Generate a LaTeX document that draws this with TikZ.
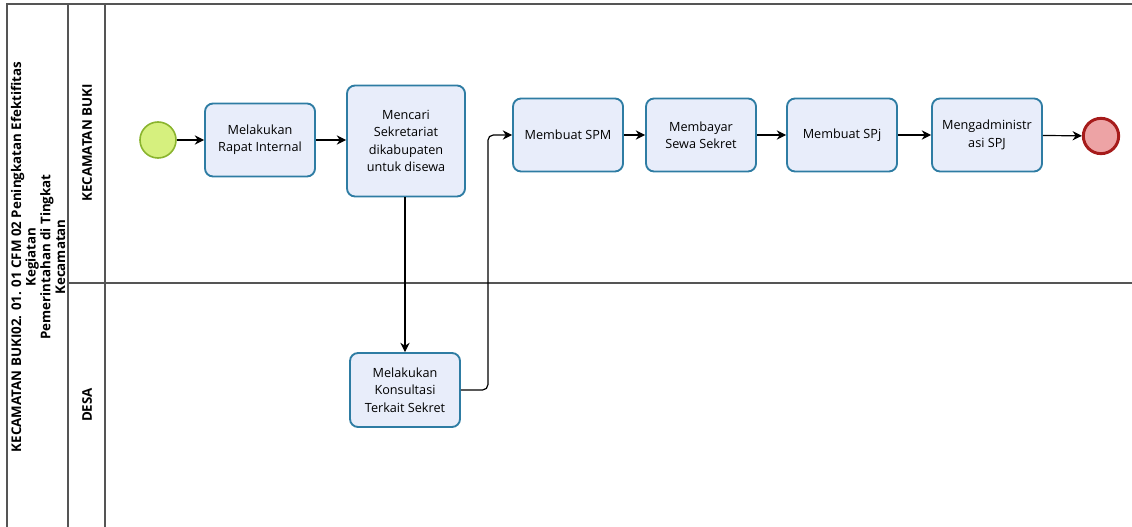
\documentclass[tikz,border=0pt]{standalone}
\usepackage{fontspec}
\setmainfont{Open Sans}
\usepackage{tikz}
\usetikzlibrary{positioning, arrows.meta, shapes.geometric, calc}
\definecolor{taskfill}{HTML}{E8EDFA}
\definecolor{taskline}{HTML}{2E7CA3}
\definecolor{startfill}{HTML}{D6F07E}
\definecolor{startline}{HTML}{8AB42E}
\definecolor{endfill}{HTML}{EDA3A5}
\definecolor{endline}{HTML}{A61B1B}
\definecolor{poolline}{HTML}{555555}
\tikzset{
	task/.style={draw=taskline, fill=taskfill, line width=1.4pt, rounded corners=6pt,
			minimum width=82.5pt, minimum height=54.75pt, align=center,
			font=\fontsize{9.5}{13}\selectfont, inner sep=2pt}
}
\tikzset{
	startevent/.style={circle, draw=startline, fill=startfill, line width=1.2pt, minimum size=27pt, inner sep=0pt}
}
\tikzset{
	endevent/.style={circle, draw=endline, fill=endfill, line width=2.2pt, minimum size=26.5pt, inner sep=0pt}
}
\tikzset{
	flow/.style={draw=black, line width=0.9pt, -{Stealth[length=7pt,width=7pt]}}
}
\tikzset{
	lanetext/.style={rotate=90, font=\bfseries\fontsize{10}{11}\selectfont, align=center}
}
\tikzset{
	poolborder/.style={draw=poolline, line width=1pt}
}

\begin{document}
\begin{tikzpicture}[x=0.75pt, y=-0.75pt]

			\useasboundingbox (0,0) rectangle (1132,527);

			% pool and lanes
			\begin{scope}
				\draw[poolborder] (1132,4) -- (7,4) -- (7,530);
				\draw[poolborder] (68,4) -- (68,530);
				\draw[poolborder] (105,4) -- (105,530);
				\draw[poolborder] (68,283) -- (1132,283);

				\node[lanetext] (pool) at (38,257) {KECAMATAN BUKI02. 01. 01 CFM 02 Peningkatan Efektifitas\\Kegiatan\\Pemerintahan di Tingkat\\Kecamatan};
				\node[lanetext] (lane1) at (87,143) {KECAMATAN BUKI};
				\node[lanetext] (lane2) at (87,405) {DESA};
			\end{scope}

			% events and tasks
			\begin{scope}
				\node[startevent] (start) at (158,140) {};
				\node[task] (rapat) at (260,140) {Melakukan\\Rapat Internal};
				\node[task, minimum width=88.5pt, minimum height=83.25pt] (cari) at (406,141) {Mencari\\Sekretariat\\dikabupaten\\untuk disewa};
				\node[task, minimum height=55.5pt] (konsul) at (405,390) {Melakukan\\Konsultasi\\Terkait Sekret};
				\node[task] (spm) at (568,135) {Membuat SPM};
				\node[task] (bayar) at (701,135) {Membayar\\Sewa Sekret};
				\node[task] (spj) at (842,135) {Membuat SPj};
				\node[task] (admin) at (987,135) {Mengadministr\\asi SPJ};
				\node[endevent] (end) at (1101,136) {};
			\end{scope}

			% sequence flows
			\begin{scope}
				\draw[flow] (start) -- (rapat);
				\draw[flow] (rapat.east |- 0,140) -- (cari.west |- 0,140);
				\draw[flow] (cari.south -| konsul.north) -- (konsul.north);
				\draw[flow, rounded corners=4pt] (konsul.east) -- ++(27,0) |- (spm.west);
				\draw[flow] (spm) -- (bayar);
				\draw[flow] (bayar) -- (spj);
				\draw[flow] (spj) -- (admin);
				\draw[flow] (admin) -- (end);
			\end{scope}

		\end{tikzpicture}
\end{document}
